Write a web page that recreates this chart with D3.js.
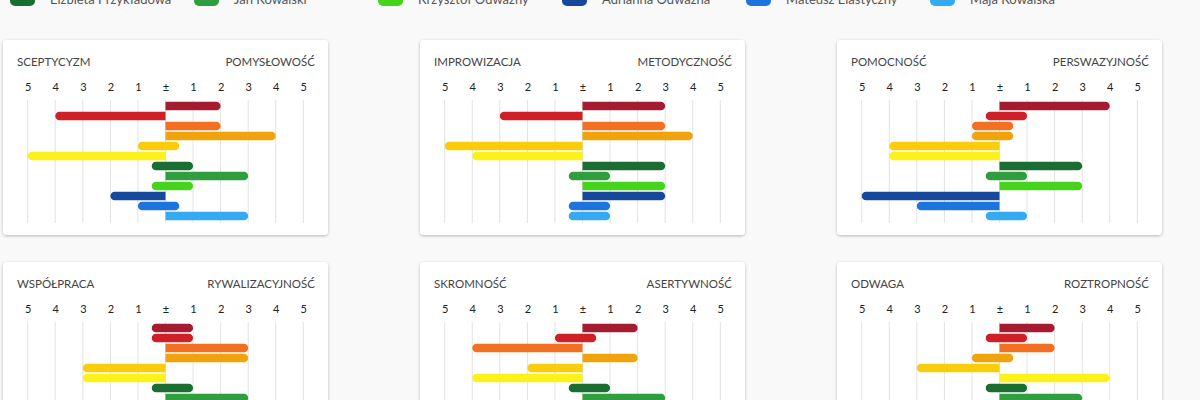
<!DOCTYPE html>
<html>
<head>
<meta charset="utf-8">
<script src="https://cdn.jsdelivr.net/npm/d3@7"></script>
<style>
  html, body { margin: 0; padding: 0; background: #f9f9f9; overflow: hidden; }
  svg { display: block; font-family: Lato, "Open Sans", sans-serif; }
</style>
</head>
<body>
<div id="chart"></div>
<script>
// trait pairs, one per card (left pole / right pole)
const leftTraits = ["SCEPTYCYZM", "IMPROWIZACJA", "POMOCNOŚĆ", "WSPÓŁPRACA", "SKROMNOŚĆ", "ODWAGA"];
const rightTraits = ["POMYSŁOWOŚĆ", "METODYCZNOŚĆ", "PERSWAZYJNOŚĆ", "RYWALIZACYJNOŚĆ", "ASERTYWNOŚĆ", "ROZTROPNOŚĆ"];

// scores per person, negative = left pole, positive = right pole
// half points (±0.5) are the "±" answers, drawn as pills leaning to one side
const scoresSceptycyzm = [2, -4, 2, 4, -0.5, -5, 0.5, 3, 0.5, -2, -0.5, 3];
const scoresImprowizacja = [3, -3, 3, 4, -5, -4, 3, 0.5, 3, 3, 0.5, 0.5];
const scoresPomocnosc = [4, 0.5, -0.5, -0.5, -4, -4, 3, 0.5, 3, -5, -3, 0.5];
const scoresWspolpraca = [0.5, 0.5, 3, 3, -3, -3, 0.5, 3];
const scoresSkromnosc = [2, -0.5, -4, 2, -2, -4, 0.5, 3];
const scoresOdwaga = [2, 0.5, 2, -0.5, -3, 4, 0.5, 3];

const allScores = [scoresSceptycyzm, scoresImprowizacja, scoresPomocnosc,
                   scoresWspolpraca, scoresSkromnosc, scoresOdwaga];

const seriesColors = ["#a51c30", "#d02027", "#f37023", "#f0a30a", "#f9cd0b", "#fcf11a",
                      "#1a6e32", "#2e9e3e", "#45d41b", "#16489b", "#1c74dc", "#35a9f2"];

// second legend row (first row is scrolled out of view)
const legendNames = ["Elżbieta Przykładowa", "Jan Kowalski", "Krzysztof Odważny",
                     "Adrianna Odważna", "Mateusz Elastyczny", "Maja Kowalska"];

const tickValues = d3.range(-5, 6);

const width = 1200, height = 400;
const card = { w: 325, h: 195, x0: 3, y0: 40, dx: 417, dy: 222 };

const svg = d3.select("#chart").append("svg")
    .attr("width", width)
    .attr("height", height);

// soft card shadow
const defs = svg.append("defs");
defs.append("filter")
    .attr("id", "shadow")
    .attr("x", "-5%").attr("y", "-5%")
    .attr("width", "110%").attr("height", "115%")
    .append("feDropShadow")
    .attr("dx", 0).attr("dy", 1)
    .attr("stdDeviation", 1.5)
    .attr("flood-color", "#000")
    .attr("flood-opacity", 0.28);

// legend
const legend = svg.append("g").attr("class", "legend");
const legendItem = legend.selectAll("g")
    .data(legendNames)
    .join("g")
    .attr("transform", (d, i) => `translate(${10 + i * 184}, 0)`);

legendItem.append("rect")
    .attr("y", -10)
    .attr("width", 25)
    .attr("height", 16)
    .attr("rx", 5)
    .attr("fill", (d, i) => seriesColors[6 + i]);

legendItem.append("text")
    .attr("x", 40)
    .attr("y", 4)
    .attr("fill", "#555")
    .style("font-size", "13px")
    .text(d => d);

// shared scales for every card
const x = d3.scaleLinear()
    .domain([-5, 5])
    .range([24.7, 300.3]);

const y = d3.scaleBand()
    .domain(d3.range(seriesColors.length))
    .range([61, 181])
    .paddingInner(0.15)
    .paddingOuter(0.075);

// bar with rounded caps only on the requested ends
function barPath(x0, x1, y0, h, roundLeft, roundRight) {
    const r = h / 2;
    const p = d3.path();
    p.moveTo(roundLeft ? x0 + r : x0, y0);
    p.lineTo(roundRight ? x1 - r : x1, y0);
    if (roundRight) p.arc(x1 - r, y0 + r, r, -Math.PI / 2, Math.PI / 2);
    else p.lineTo(x1, y0 + h);
    p.lineTo(roundLeft ? x0 + r : x0, y0 + h);
    if (roundLeft) p.arc(x0 + r, y0 + r, r, Math.PI / 2, Math.PI * 1.5);
    else p.lineTo(x0, y0);
    p.closePath();
    return p.toString();
}

function barExtent(v) {
    if (Math.abs(v) === 0.5) {
        // pill: one unit towards the lean, half a unit back
        const lean = Math.sign(v);
        return { a: Math.min(lean, -lean / 2), b: Math.max(lean, -lean / 2), pill: true };
    }
    return { a: Math.min(0, v), b: Math.max(0, v), pill: false };
}

allScores.forEach((scores, k) => {
    const col = k % 3, row = Math.floor(k / 3);
    const g = svg.append("g")
        .attr("transform", `translate(${card.x0 + col * card.dx}, ${card.y0 + row * card.dy})`);

    g.append("rect")
        .attr("width", card.w)
        .attr("height", card.h)
        .attr("rx", 4)
        .attr("fill", "#fff")
        .attr("filter", "url(#shadow)");

    g.append("text")
        .attr("x", 14)
        .attr("y", 25.7)
        .attr("fill", "#444")
        .style("font-size", "11.5px")
        .text(leftTraits[k]);

    g.append("text")
        .attr("x", 312)
        .attr("y", 25.7)
        .attr("text-anchor", "end")
        .attr("fill", "#444")
        .style("font-size", "11.5px")
        .text(rightTraits[k]);

    // tick labels
    const axis = d3.axisTop(x)
        .tickValues(tickValues)
        .tickSize(0)
        .tickPadding(3)
        .tickFormat(d => d === 0 ? "±" : Math.abs(d));

    const ax = g.append("g")
        .attr("transform", "translate(0, 53.7)")
        .call(axis);
    ax.select(".domain").remove();
    ax.selectAll("text")
        .attr("fill", "#222")
        .style("font-family", "Lato, sans-serif")
        .style("font-size", "11px");

    // grid
    g.append("g")
        .selectAll("line")
        .data(tickValues)
        .join("line")
        .attr("x1", d => x(d))
        .attr("x2", d => x(d))
        .attr("y1", 60)
        .attr("y2", 183)
        .attr("stroke", "#e2e2e2")
        .attr("stroke-width", 1);

    // bars
    g.append("g")
        .selectAll("path")
        .data(scores)
        .join("path")
        .attr("fill", (d, i) => seriesColors[i])
        .attr("d", (d, i) => {
            const e = barExtent(d);
            const roundLeft = e.pill || d < 0;
            const roundRight = e.pill || d > 0;
            return barPath(x(e.a), x(e.b), y(i), y.bandwidth(), roundLeft, roundRight);
        });
});
</script>
</body>
</html>
